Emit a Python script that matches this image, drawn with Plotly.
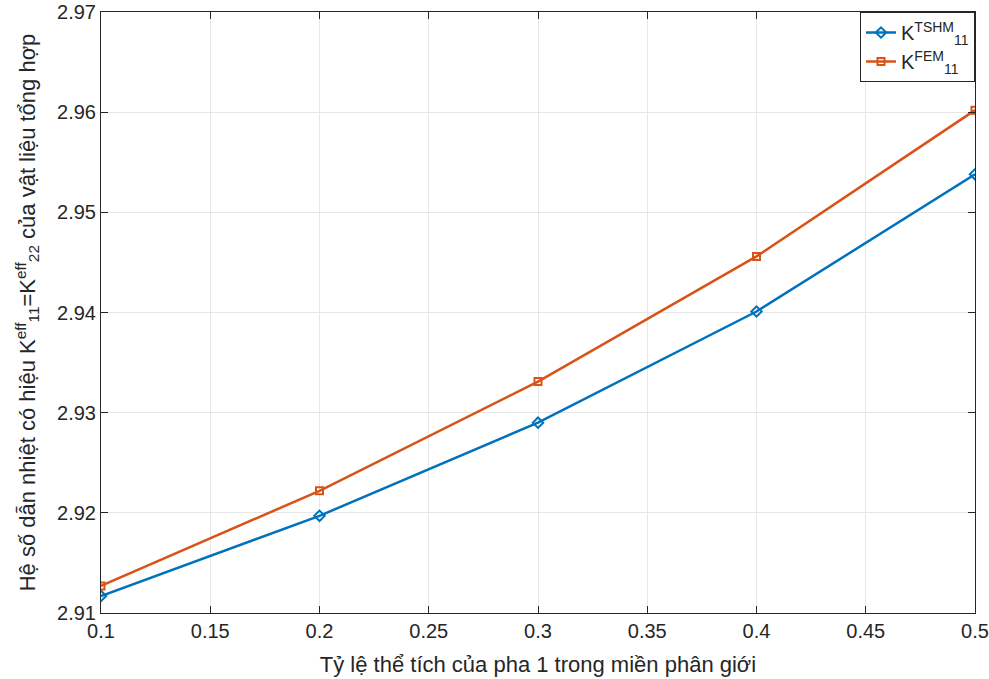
import plotly.graph_objects as go

x_vals = [0.1, 0.2, 0.3, 0.4, 0.5]
k_tshm = [2.9117, 2.9197, 2.9290, 2.9401, 2.9538]
k_fem = [2.9127, 2.9222, 2.9331, 2.9456, 2.9602]

x_ticks = [0.1, 0.15, 0.2, 0.25, 0.3, 0.35, 0.4, 0.45, 0.5]
x_ticktext = ["0.1", "0.15", "0.2", "0.25", "0.3", "0.35", "0.4", "0.45", "0.5"]
y_ticks = [2.91, 2.92, 2.93, 2.94, 2.95, 2.96, 2.97]
y_ticktext = ["2.91", "2.92", "2.93", "2.94", "2.95", "2.96", "2.97"]

blue = "#0072BD"
orange = "#D95319"
font_family = "Liberation Sans, Arial, sans-serif"
txt = "#262626"

fig = go.Figure()
fig.add_trace(go.Scatter(
    x=x_vals, y=k_tshm, mode="lines+markers",
    name="K<sup>TSHM</sup><sub>11</sub>",
    line=dict(color=blue, width=2.5),
    marker=dict(symbol="diamond-open", size=8, color=blue, line=dict(width=2, color=blue)),
))
fig.add_trace(go.Scatter(
    x=x_vals, y=k_fem, mode="lines+markers",
    name="K<sup>FEM</sup><sub>11</sub>",
    line=dict(color=orange, width=2.5),
    marker=dict(symbol="square-open", size=7, color=orange, line=dict(width=2, color=orange)),
))

axis_common = dict(
    showline=True, linecolor=txt, linewidth=1, mirror="ticks",
    ticks="inside", ticklen=7, tickcolor=txt,
    showgrid=True, gridcolor="#e6e6e6", gridwidth=1,
    zeroline=False, automargin=False,
    tickfont=dict(family=font_family, size=20, color=txt),
)

fig.update_layout(
    width=989, height=679,
    margin=dict(l=101, r=14, t=12, b=66),
    paper_bgcolor="white", plot_bgcolor="white",
    font=dict(family=font_family, color=txt),
    xaxis=dict(
        range=[0.1, 0.5], tickvals=x_ticks, ticktext=x_ticktext,
        title=dict(text="Tỷ lệ thể tích của pha 1 trong miền phân giới",
                   font=dict(family=font_family, size=22, color=txt)),
        **axis_common,
    ),
    yaxis=dict(
        range=[2.91, 2.97], tickvals=y_ticks, ticktext=y_ticktext,
        title=dict(text="Hệ số dẫn nhiệt có hiệu K<sup>eff</sup><sub>11</sub>=K<sup>eff</sup><sub>22</sub> của vật liệu tổng hợp",
                   font=dict(family=font_family, size=22, color=txt)),
        **axis_common,
    ),
    legend=dict(
        x=1, y=1, xanchor="right", yanchor="top",
        bgcolor="white", bordercolor=txt, borderwidth=1,
        font=dict(family=font_family, size=20, color=txt),
        tracegroupgap=2, itemwidth=30,
    ),
    showlegend=True,
)

fig.write_html("out.html")
